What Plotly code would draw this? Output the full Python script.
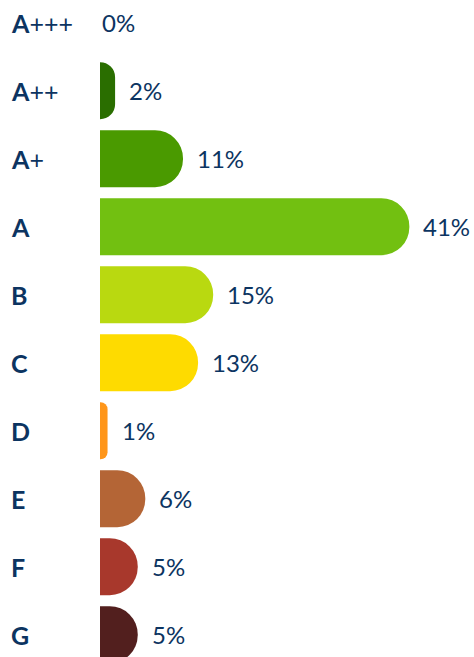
import plotly.graph_objects as go

categories = ["A+++", "A++", "A+", "A", "B", "C", "D", "E", "F", "G"]
label_html = ["<b>A</b>+++", "<b>A</b>++", "<b>A</b>+", "<b>A</b>", "<b>B</b>", "<b>C</b>", "<b>D</b>", "<b>E</b>", "<b>F</b>", "<b>G</b>"]
values = [0, 2, 11, 41, 15, 13, 1, 6, 5, 5]
colors = ["#1d5700", "#2a6e00", "#4a9a00", "#72c011", "#b9d910", "#fedb00",
          "#ff961a", "#b46536", "#a8382c", "#521f1e"]

navy = "#0c3461"
k = 7.545  # px per %
x0 = -100 / k
x1 = x0 + 474 / k

fig = go.Figure(go.Bar(
    x=values, y=categories, orientation="h",
    marker=dict(color=colors, cornerradius=28, line=dict(width=0)),
    hoverinfo="skip",
))

annotations = []
for cat, lab, v in zip(categories, label_html, values):
    annotations.append(dict(
        x=0, xref="paper", y=cat, yref="y", text=lab, showarrow=False,
        xanchor="left", yanchor="middle", xshift=9,
        font=dict(family="Lato", size=25, color=navy)))
    annotations.append(dict(
        x=v, xref="x", y=cat, yref="y", text=f"{v}%", showarrow=False,
        xanchor="left", yanchor="middle", xshift=12 if v > 0 else 0,
        font=dict(family="Lato", size=24, color=navy)))

fig.update_layout(
    width=474, height=657,
    margin=dict(l=0, r=0, t=0, b=0),
    paper_bgcolor="white", plot_bgcolor="white",
    bargap=0.162,
    showlegend=False,
    xaxis=dict(range=[x0, x1], visible=False, fixedrange=True),
    yaxis=dict(categoryorder="array", categoryarray=categories,
               range=[(657 - 22.7) / 68, -22.7 / 68], visible=False, fixedrange=True),
    annotations=annotations,
)

fig.write_html("out.html", config={"displayModeBar": False},
               post_script="document.body.style.margin='0';document.body.style.overflow='hidden';")
